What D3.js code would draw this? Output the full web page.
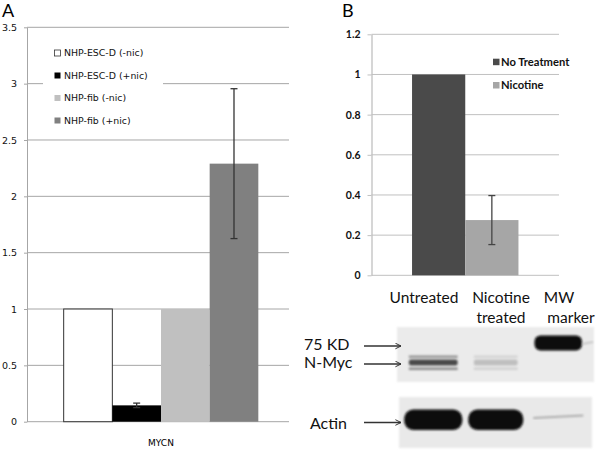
<!DOCTYPE html>
<html>
<head>
<meta charset="utf-8">
<script src="https://cdn.jsdelivr.net/npm/d3@7"></script>
<style>
  html, body { margin: 0; padding: 0; background: #fff; }
  svg { display: block; }
</style>
</head>
<body>
<svg id="chart" width="600" height="453"></svg>
<script>
// ---------- DATA ----------
// Panel A
const categoryA = ["MYCN"];
const seriesA = ["NHP-ESC-D (-nic)", "NHP-ESC-D (+nic)", "NHP-fib (-nic)", "NHP-fib (+nic)"];
const valuesA = [1, 0.145, 1, 2.29];
const errorsA = [null, 0.02, null, 0.665];
const ticksA = [0, 0.5, 1, 1.5, 2, 2.5, 3, 3.5];
const tickLabelsA = ["0", "0.5", "1", "1.5", "2", "2.5", "3", "3.5"];

// Panel B
const categoryB = ["N-Myc"];
const seriesB = ["No Treatment", "Nicotine"];
const valuesB = [1, 0.275];
const errorsB = [null, 0.122];
const ticksB = [0, 0.2, 0.4, 0.6, 0.8, 1, 1.2];
const tickLabelsB = ["0", "0.2", "0.4", "0.6", "0.8", "1", "1.2"];

// Western blot
const lanes = ["Untreated", "Nicotine treated", "MW marker"];
const laneLine1 = ["Untreated", "Nicotine", "MW"];
const laneLine2 = ["", "treated", "marker"];
const blotLabels = ["75 KD", "N-Myc", "Actin"];
const markerIntensity = [0, 0, 1];
const nmycIntensity = [0.85, 0.22, 0];
const actinIntensity = [1, 1, 0.12];

// ---------- STYLES ----------
const colorsA = ["#ffffff", "#000000", "#c0c0c0", "#808080"];
const colorsB = ["#4a4a4a", "#a6a6a6"];
const gridA = "#a6a6a6";
const gridB = "#c0c0c0";

const svg = d3.select("#chart");
svg.append("rect").attr("width", 600).attr("height", 453).attr("fill", "#fff");

// ---------- PANEL A ----------
const A = { left: 27, right: 289, top: 27.3, bottom: 421.7 };
const yA = d3.scaleLinear().domain([0, 3.5]).range([A.bottom, A.top]);
const xA = d3.scaleBand().domain(categoryA).range([30, 292]).paddingInner(0).paddingOuter(0.173);
const xA2 = d3.scaleBand().domain(seriesA).range([0, xA.bandwidth()]).padding(0);

const gA = svg.append("g");
gA.append("text").attr("x", 2).attr("y", 17).attr("font-family", "Lato, sans-serif")
  .attr("font-size", 18).text("A");

gA.selectAll("line.grid").data(ticksA).join("line")
  .attr("x1", A.left).attr("x2", A.right)
  .attr("y1", d => yA(d)).attr("y2", d => yA(d))
  .attr("stroke", gridA).attr("stroke-width", 1);

const axA = gA.append("g").attr("transform", `translate(${A.left},0)`)
  .call(d3.axisLeft(yA).tickValues(ticksA).tickSize(3).tickSizeOuter(0).tickPadding(7)
    .tickFormat((d, i) => tickLabelsA[i]));
axA.select(".domain").attr("stroke", gridA);
axA.selectAll(".tick line").attr("stroke", gridA);
axA.selectAll(".tick text").attr("font-family", "'DejaVu Sans', sans-serif").attr("font-size", 9.5).attr("fill", "#111");

gA.selectAll("rect.bar").data(seriesA).join("rect")
  .attr("x", d => xA(categoryA[0]) + xA2(d))
  .attr("y", (d, i) => yA(valuesA[i]))
  .attr("width", xA2.bandwidth())
  .attr("height", (d, i) => yA(0) - yA(valuesA[i]))
  .attr("fill", (d, i) => colorsA[i])
  .attr("stroke", (d, i) => i === 0 ? "#333" : "none")
  .attr("stroke-width", 1);

seriesA.forEach((s, i) => {
  if (errorsA[i] == null) return;
  const cx = xA(categoryA[0]) + xA2(s) + xA2.bandwidth() / 2;
  const y1 = yA(valuesA[i] + errorsA[i]), y2 = yA(valuesA[i] - errorsA[i]);
  const c = "#333";
  gA.append("line").attr("x1", cx).attr("x2", cx).attr("y1", y1).attr("y2", y2).attr("stroke", c).attr("stroke-width", 1.3);
  [y1, y2].forEach(y => gA.append("line").attr("x1", cx - 3.5).attr("x2", cx + 3.5).attr("y1", y).attr("y2", y).attr("stroke", c).attr("stroke-width", 1.3));
});

gA.append("text").attr("x", xA(categoryA[0]) + xA.bandwidth() / 2).attr("y", 446)
  .attr("text-anchor", "middle").attr("font-family", "'DejaVu Sans', sans-serif").attr("font-size", 9)
  .text(categoryA[0]);

// legend A
const legA = gA.append("g");
legA.append("rect").attr("x", 43).attr("y", 38).attr("width", 120).attr("height", 94).attr("fill", "#fff");
seriesA.forEach((s, i) => {
  const y = 53 + i * 22.5;
  legA.append("rect").attr("x", 54.5).attr("y", y - 3).attr("width", 6).attr("height", 6)
    .attr("fill", colorsA[i]).attr("stroke", i === 0 ? "#333" : "none").attr("stroke-width", 0.8);
  legA.append("text").attr("x", 64).attr("y", y + 3.4).attr("font-family", "'DejaVu Sans', sans-serif")
    .attr("font-size", 9.4).attr("fill", "#111").text(s);
});

// ---------- PANEL B ----------
const B = { left: 371.5, right: 559, top: 34.3, bottom: 275.3 };
const yB = d3.scaleLinear().domain([0, 1.2]).range([B.bottom, B.top]);
const xB = d3.scaleBand().domain(categoryB).range([B.left, B.right]).paddingInner(0).paddingOuter(0.381);
const xB2 = d3.scaleBand().domain(seriesB).range([0, xB.bandwidth()]).padding(0);

const gB = svg.append("g");
gB.append("text").attr("x", 342).attr("y", 17).attr("font-family", "Lato, sans-serif")
  .attr("font-size", 18).text("B");

gB.selectAll("line.grid").data(ticksB).join("line")
  .attr("x1", B.left).attr("x2", B.right)
  .attr("y1", d => yB(d)).attr("y2", d => yB(d))
  .attr("stroke", gridB).attr("stroke-width", 1);

const axB = gB.append("g").attr("transform", `translate(${B.left},0)`)
  .call(d3.axisLeft(yB).tickValues(ticksB).tickSize(4).tickSizeOuter(0).tickPadding(7)
    .tickFormat((d, i) => tickLabelsB[i]));
axB.select(".domain").attr("stroke", gridB).attr("stroke-width", 1.3);
axB.selectAll(".tick line").attr("stroke", gridB);
axB.selectAll(".tick text").attr("font-family", "Lato, sans-serif").attr("font-weight", "bold")
  .attr("font-size", 10.5).attr("fill", "#111");

gB.selectAll("rect.bar").data(seriesB).join("rect")
  .attr("x", d => xB(categoryB[0]) + xB2(d))
  .attr("y", (d, i) => yB(valuesB[i]))
  .attr("width", xB2.bandwidth())
  .attr("height", (d, i) => yB(0) - yB(valuesB[i]))
  .attr("fill", (d, i) => colorsB[i]);

seriesB.forEach((s, i) => {
  if (errorsB[i] == null) return;
  const cx = xB(categoryB[0]) + xB2(s) + xB2.bandwidth() / 2;
  const y1 = yB(valuesB[i] + errorsB[i]), y2 = yB(valuesB[i] - errorsB[i]);
  const c = "#444";
  gB.append("line").attr("x1", cx).attr("x2", cx).attr("y1", y1).attr("y2", y2).attr("stroke", c).attr("stroke-width", 1.3);
  [y1, y2].forEach(y => gB.append("line").attr("x1", cx - 3.5).attr("x2", cx + 3.5).attr("y1", y).attr("y2", y).attr("stroke", c).attr("stroke-width", 1.3));
});

seriesB.forEach((s, i) => {
  const y = 62 + i * 23.3;
  gB.append("rect").attr("x", 493).attr("y", y - 3.3).attr("width", 6.5).attr("height", 6.5).attr("fill", colorsB[i]);
  gB.append("text").attr("x", 501).attr("y", y + 4).attr("font-family", "Lato, sans-serif")
    .attr("font-weight", "bold").attr("font-size", 11.2).attr("fill", "#111").text(s);
});

// ---------- WESTERN BLOT ----------
const defs = svg.append("defs");
defs.append("filter").attr("id", "blur2").attr("x", "-20%").attr("y", "-80%").attr("width", "140%").attr("height", "260%")
  .append("feGaussianBlur").attr("stdDeviation", 1.3);
defs.append("filter").attr("id", "soft").attr("x", "-5%").attr("y", "-10%").attr("width", "110%").attr("height", "120%")
  .append("feGaussianBlur").attr("stdDeviation", 0.8);
defs.append("marker").attr("id", "arrow").attr("viewBox", "0 0 10 10").attr("refX", 9).attr("refY", 5)
  .attr("markerWidth", 7).attr("markerHeight", 7).attr("markerUnits", "userSpaceOnUse").attr("orient", "auto")
  .append("path").attr("d", "M1,1 L9,5 L1,9").attr("fill", "none").attr("stroke", "#333").attr("stroke-width", 1.4);

const laneX = d3.scaleBand().domain(lanes).range([402, 589.5]).padding(0);
const gW = svg.append("g");

// lane headers
const labelFont = "Lato, sans-serif";
const line1X = [424, 501, 559];
const line2X = [424, 501, 571];
lanes.forEach((l, i) => {
  gW.append("text").attr("x", line1X[i]).attr("y", 303).attr("text-anchor", "middle")
    .attr("font-family", labelFont).attr("font-size", 15.5).attr("fill", "#111").text(laneLine1[i]);
  if (laneLine2[i]) gW.append("text").attr("x", line2X[i]).attr("y", 323).attr("text-anchor", "middle")
    .attr("font-family", labelFont).attr("font-size", 15.5).attr("fill", "#111").text(laneLine2[i]);
});

// membranes
gW.append("rect").attr("x", 397).attr("y", 327).attr("width", 197).attr("height", 55).attr("fill", "#ebebeb").attr("filter", "url(#soft)");
gW.append("rect").attr("x", 399).attr("y", 397).attr("width", 193).attr("height", 51).attr("fill", "#e9e9e9").attr("filter", "url(#soft)");

const shade = v => d3.interpolateRgb("#e9e9e9", "#0a0a0a")(v);

// 75 KD marker band
lanes.forEach((l, i) => {
  const v = markerIntensity[i];
  if (!v) return;
  const cx = laneX(l) + laneX.bandwidth() / 2;
  const w = laneX.bandwidth() * 0.76;
  gW.append("rect").attr("x", cx - w / 2).attr("y", 335.5).attr("width", w).attr("height", 15)
    .attr("rx", 6).attr("fill", shade(v)).attr("filter", "url(#blur2)");
  gW.append("line").attr("x1", cx + w / 2).attr("x2", 593).attr("y1", 344).attr("y2", 342)
    .attr("stroke", "#bdbdbd").attr("stroke-width", 1.5).attr("filter", "url(#blur2)");
});

// N-Myc doublet
lanes.forEach((l, i) => {
  const v = nmycIntensity[i];
  if (!v) return;
  const cx = laneX(l) + laneX.bandwidth() / 2;
  const w = laneX.bandwidth() * (i === 0 ? 0.78 : 0.7);
  gW.append("rect").attr("x", cx - w / 2).attr("y", 355.5).attr("width", w).attr("height", 2.5)
    .attr("fill", shade(v * 0.45)).attr("filter", "url(#blur2)");
  gW.append("rect").attr("x", cx - w / 2).attr("y", 359.5).attr("width", w).attr("height", 6)
    .attr("rx", 2).attr("fill", shade(v * 0.85)).attr("filter", "url(#blur2)");
  gW.append("rect").attr("x", cx - w / 2).attr("y", 367.5).attr("width", w).attr("height", 2.5)
    .attr("fill", shade(v * 0.5)).attr("filter", "url(#blur2)");
});

// Actin
lanes.forEach((l, i) => {
  const v = actinIntensity[i];
  const cx = laneX(l) + laneX.bandwidth() / 2;
  if (v >= 0.5) {
    const w = laneX.bandwidth() * (i === 0 ? 0.93 : 0.88);
    gW.append("rect").attr("x", cx - w / 2).attr("y", 409.5).attr("width", w).attr("height", 20.5)
      .attr("rx", 9).attr("fill", shade(v)).attr("filter", "url(#blur2)");
  } else {
    const w = laneX.bandwidth() * 0.8;
    gW.append("line").attr("x1", cx - w / 2).attr("x2", cx + w / 2).attr("y1", 418).attr("y2", 415.5)
      .attr("stroke", shade(v + 0.15)).attr("stroke-width", 2).attr("filter", "url(#blur2)");
  }
});

// labels and arrows
const blotY = [349.5, 368, 428.5];
const arrowY = [346, 364, 422.5];
const labelX = [304, 304, 310];
blotLabels.forEach((t, i) => {
  gW.append("text").attr("x", labelX[i]).attr("y", blotY[i]).attr("font-family", labelFont)
    .attr("font-size", 16).attr("fill", "#111").text(t);
  gW.append("line").attr("x1", 364).attr("x2", 401).attr("y1", arrowY[i]).attr("y2", arrowY[i])
    .attr("stroke", "#333").attr("stroke-width", 1.3).attr("marker-end", "url(#arrow)");
});
</script>
</body>
</html>
